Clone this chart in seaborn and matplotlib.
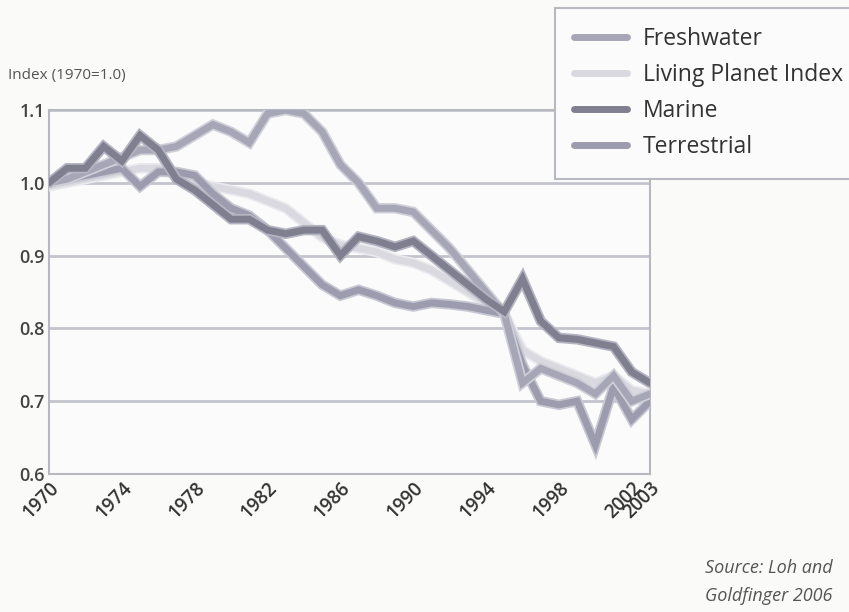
import pandas as pd
import seaborn as sns
import matplotlib.pyplot as plt
import matplotlib.patheffects as pe
from matplotlib.lines import Line2D

# Data (index, 1970 = 1.0)
years = list(range(1970, 2004))

freshwater = [1.0, 1.005, 1.015, 1.025, 1.035, 1.045, 1.045, 1.05, 1.065, 1.08,
              1.07, 1.055, 1.095, 1.1, 1.095, 1.07, 1.025, 1.0, 0.965, 0.965,
              0.96, 0.935, 0.91, 0.88, 0.85, 0.82, 0.725, 0.745, 0.735, 0.725,
              0.71, 0.735, 0.70, 0.71]
living_planet = [0.995, 1.0, 1.005, 1.01, 1.015, 1.02, 1.02, 1.01, 1.0, 0.995,
                 0.99, 0.985, 0.975, 0.965, 0.945, 0.925, 0.915, 0.91, 0.905, 0.895,
                 0.89, 0.88, 0.865, 0.85, 0.835, 0.82, 0.77, 0.755, 0.745, 0.735,
                 0.725, 0.735, 0.715, 0.71]
marine = [1.0, 1.02, 1.02, 1.05, 1.03, 1.065, 1.045, 1.005, 0.99, 0.97,
          0.95, 0.95, 0.935, 0.93, 0.935, 0.935, 0.90, 0.926, 0.92, 0.912,
          0.92, 0.90, 0.88, 0.86, 0.84, 0.823, 0.868, 0.81, 0.787, 0.785,
          0.78, 0.775, 0.74, 0.725]
terrestrial = [1.0, 1.005, 1.01, 1.015, 1.02, 0.995, 1.015, 1.015, 1.01, 0.985,
               0.965, 0.955, 0.935, 0.91, 0.885, 0.86, 0.845, 0.853, 0.845, 0.835,
               0.83, 0.835, 0.833, 0.83, 0.825, 0.82, 0.75, 0.70, 0.695, 0.70,
               0.64, 0.72, 0.675, 0.70]

series = ['Freshwater', 'Living Planet Index', 'Marine', 'Terrestrial']
colors = ['#a6a6b6', '#d9d9df', '#7f7f8f', '#9c9cae']
halos = ['#cfcfd9', '#e9e9ee', '#b4b4c2', '#c8c8d4']
xticks = [1970, 1974, 1978, 1982, 1986, 1990, 1994, 1998, 2002, 2003]
yticks = [0.6, 0.7, 0.8, 0.9, 1.0, 1.1]

df = pd.DataFrame({'year': years, 'Freshwater': freshwater,
                   'Living Planet Index': living_planet,
                   'Marine': marine, 'Terrestrial': terrestrial})
long = df.melt(id_vars='year', var_name='series', value_name='index')

sns.set_style('white')
plt.rcParams['font.family'] = ['Open Sans', 'DejaVu Sans']

fig = plt.figure(figsize=(8.49, 6.12), dpi=100, facecolor='#fafaf9')
ax = fig.add_axes([49 / 849, 1 - 474 / 612, 601 / 849, 364 / 612])
ax.set_facecolor('#fbfbfb')

# horizontal grid lines
for y in yticks:
    ax.axhline(y, color='#c4c4cc', lw=2, zorder=1)

draw_order = ['Living Planet Index', 'Terrestrial', 'Freshwater', 'Marine']
palette = dict(zip(series, colors))
sns.lineplot(data=long, x='year', y='index', hue='series', hue_order=draw_order,
             palette=palette, linewidth=5, legend=False, ax=ax, zorder=3)
halo_map = dict(zip(series, halos))
for line, name in zip(ax.get_lines()[-4:], draw_order):
    line.set_solid_joinstyle('miter')
    line.set_path_effects([pe.Stroke(linewidth=7.5, foreground=halo_map[name]),
                           pe.Normal()])

ax.set_xlim(1970, 2003)
ax.set_ylim(0.6, 1.1)
ax.set_xticks(xticks)
ax.set_xticklabels([str(t) for t in xticks], rotation=45, ha='right',
                   rotation_mode='anchor', fontsize=13.5, color='#333333',
                   fontweight='semibold')
ax.set_yticks(yticks)
ax.set_yticklabels(['0.6', '0.7', '0.8', '0.9', '1.0', '1.1'], fontsize=13,
                   color='#444444', fontweight='semibold')
ax.tick_params(length=0, pad=3)
ax.set_xlabel('')
ax.set_ylabel('')
for s in ax.spines.values():
    s.set_color('#b8b8c0')
    s.set_linewidth(1.5)

fig.text(8 / 849, 1 - 75 / 612, 'Index (1970=1.0)', fontsize=11,
         color='#555555', va='center', ha='left')

handles = [Line2D([0], [0], color=c, lw=5) for c in colors]
leg = fig.legend(handles, series, loc='upper left',
                 bbox_to_anchor=(555 / 849, 1 - 8 / 612), fontsize=16.5,
                 handlelength=2.3, labelspacing=0.52, borderpad=0.85,
                 handletextpad=0.7, borderaxespad=0, fancybox=False,
                 framealpha=1)
leg.get_frame().set_edgecolor('#b8b8c0')
leg.get_frame().set_linewidth(1.5)
leg.get_frame().set_facecolor('#fbfbfb')
for t in leg.get_texts():
    t.set_color('#333333')

fig.text(705 / 849, 1 - 568 / 612, 'Source: Loh and', fontsize=13,
         style='italic', color='#555555', va='center', ha='left')
fig.text(705 / 849, 1 - 596 / 612, 'Goldfinger 2006', fontsize=13,
         style='italic', color='#555555', va='center', ha='left')

fig.savefig('out.png', dpi=100, facecolor=fig.get_facecolor())
